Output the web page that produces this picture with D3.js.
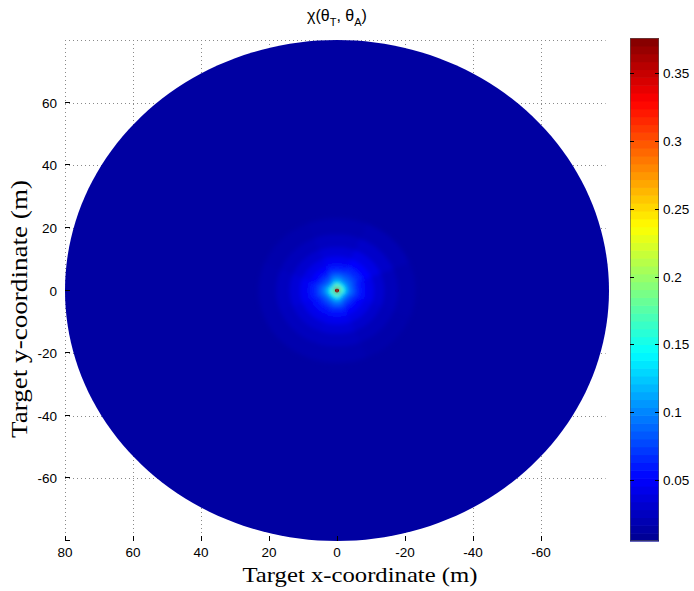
<!DOCTYPE html>
<html><head><meta charset="utf-8">
<script src="https://cdn.jsdelivr.net/npm/d3@7"></script>
<style>body{margin:0;background:#fff}</style>
</head><body>
<svg id="c" width="694" height="591"></svg>
<script>
// ---------- data ----------
const xTicks = [80, 60, 40, 20, 0, -20, -40, -60];
const yTicks = [60, 40, 20, 0, -20, -40, -60];
const gridY = [80, 60, 40, 20, 0, -20, -40, -60];
const cbTicks = [0.05, 0.1, 0.15, 0.2, 0.25, 0.3, 0.35];
const colorMin = 0.005, colorMax = 0.376;
const jetStops = [0, 0.125, 0.375, 0.625, 0.875, 1];
const jetColors = ["#00008f", "#0000ff", "#00ffff", "#ffff00", "#ff0000", "#800000"];
const maxRange = 80;
const outerValue = 0.013;
// polar cells near the target: ring edges (m) and sector centres (deg)
const rangeEdges = [0, 0.6, 1.5, 2.5, 3.5, 5, 6.5, 8.5, 11, 14, 18, 23];
const sectorCentres = [0, 45, 90, 135, 180, 225, 270, 315];
const ringValues = [
  [0.37, 0.37, 0.37, 0.37, 0.37, 0.37, 0.37, 0.37],
  [0.20, 0.18, 0.21, 0.19, 0.20, 0.17, 0.21, 0.18],
  [0.15, 0.13, 0.16, 0.14, 0.15, 0.13, 0.15, 0.14],
  [0.115, 0.10, 0.12, 0.11, 0.11, 0.10, 0.115, 0.105],
  [0.09, 0.08, 0.095, 0.09, 0.088, 0.078, 0.09, 0.082],
  [0.072, 0.064, 0.075, 0.076, 0.07, 0.062, 0.07, 0.066],
  [0.058, 0.052, 0.058, 0.063, 0.055, 0.05, 0.056, 0.054],
  [0.046, 0.041, 0.045, 0.052, 0.043, 0.04, 0.044, 0.043],
  [0.035, 0.031, 0.034, 0.04, 0.032, 0.03, 0.033, 0.032],
  [0.025, 0.023, 0.025, 0.029, 0.023, 0.022, 0.024, 0.024],
  [0.018, 0.017, 0.018, 0.02, 0.017, 0.016, 0.018, 0.018]
];

// ---------- layout ----------
const svg = d3.select("#c");
const x = d3.scaleLinear().domain([80, -80]).range([65, 609]);
const y = d3.scaleLinear().domain([80, -80]).range([40, 541]);
const color = d3.scaleLinear()
  .domain(jetStops.map(t => colorMin + t * (colorMax - colorMin)))
  .range(jetColors).clamp(true);

const defs = svg.append("defs");
defs.append("filter").attr("id", "blur").attr("x", "-50%").attr("y", "-50%").attr("width", "200%").attr("height", "200%")
  .append("feGaussianBlur").attr("stdDeviation", 2);

function cellPath(r0, r1, a0, a1) {
  const n = 24, pts = [];
  for (let i = 0; i <= n; i++) { const a = (a0 + (a1 - a0) * i / n) * Math.PI / 180; pts.push([x(r1 * Math.cos(a)), y(r1 * Math.sin(a))]); }
  for (let i = n; i >= 0; i--) { const a = (a0 + (a1 - a0) * i / n) * Math.PI / 180; pts.push([x(r0 * Math.cos(a)), y(r0 * Math.sin(a))]); }
  return d3.line()(pts) + "Z";
}
function diskPath(r) {
  const pts = d3.range(0, 361, 2).map(d => [x(r * Math.cos(d * Math.PI / 180)), y(r * Math.sin(d * Math.PI / 180))]);
  return d3.line()(pts) + "Z";
}

// grid
const grid = svg.append("g").attr("stroke", "#8a8a8a").attr("stroke-width", 1).attr("stroke-dasharray", "1,3");
grid.selectAll(".gx").data(xTicks).join("line")
  .attr("x1", d => Math.round(x(d)) + 0.5).attr("x2", d => Math.round(x(d)) + 0.5)
  .attr("y1", y(80)).attr("y2", y(-80));
grid.selectAll(".gy").data(gridY).join("line")
  .attr("y1", d => Math.round(y(d)) + 0.5).attr("y2", d => Math.round(y(d)) + 0.5)
  .attr("x1", x(80)).attr("x2", x(-79));

// background disk
svg.append("path").attr("d", diskPath(maxRange)).attr("fill", color(outerValue));

// near-target cells
const cells = [];
ringValues.forEach((row, i) => row.forEach((v, j) => cells.push({
  r0: rangeEdges[i], r1: rangeEdges[i + 1], a0: sectorCentres[j] - 22.5, a1: sectorCentres[j] + 22.5, v, ring: i })));
svg.append("g").attr("filter", "url(#blur)")
  .selectAll("path").data(cells.filter(c => c.ring > 0)).join("path")
  .attr("d", c => cellPath(c.r0, c.r1, c.a0, c.a1))
  .attr("fill", c => color(c.v)).attr("stroke", c => color(c.v)).attr("stroke-width", 0.5);
svg.append("g").selectAll("path").data(cells.filter(c => c.ring === 0)).join("path")
  .attr("d", c => cellPath(c.r0, c.r1, c.a0, c.a1))
  .attr("fill", c => color(c.v));

// axis tick marks (inward) and labels
const ax = svg.append("g").attr("stroke", "#000").attr("stroke-width", 1);
ax.selectAll(".tx").data(xTicks).join("line")
  .attr("x1", d => Math.round(x(d)) + 0.5).attr("x2", d => Math.round(x(d)) + 0.5)
  .attr("y1", y(-80)).attr("y2", y(-80) - 5);
ax.selectAll(".ty").data(yTicks.concat([-80])).join("line")
  .attr("y1", d => Math.round(y(d)) - 0.5).attr("y2", d => Math.round(y(d)) - 0.5)
  .attr("x1", x(80)).attr("x2", x(80) + 5);

const lab = svg.append("g").attr("font-family", "Liberation Sans, Arial, sans-serif").attr("font-size", 13.5).attr("fill", "#000");
lab.selectAll(".lx").data(xTicks).join("text")
  .attr("x", d => x(d)).attr("y", 557).attr("text-anchor", "middle").text(d => d);
lab.selectAll(".ly").data(yTicks).join("text")
  .attr("x", 57).attr("y", d => y(d) + 5).attr("text-anchor", "end").text(d => d);

// axis titles
svg.append("text").attr("x", 360).attr("y", 582).attr("text-anchor", "middle")
  .attr("font-family", "Liberation Serif, DejaVu Serif, serif").attr("font-size", 22)
  .attr("textLength", 235).attr("lengthAdjust", "spacingAndGlyphs")
  .text("Target x-coordinate (m)");
svg.append("text").attr("transform", "translate(27,309) rotate(-90)").attr("text-anchor", "middle")
  .attr("font-family", "Liberation Serif, DejaVu Serif, serif").attr("font-size", 23)
  .attr("textLength", 258).attr("lengthAdjust", "spacingAndGlyphs")
  .text("Target y-coordinate (m)");

// title
const t = svg.append("text").attr("x", 337).attr("y", 21).attr("text-anchor", "middle")
  .attr("font-family", "Liberation Sans, Arial, sans-serif").attr("font-size", 16);
t.append("tspan").text("χ(θ");
t.append("tspan").attr("font-size", 11).attr("dy", 5).text("T");
t.append("tspan").attr("dy", -5).text(", θ");
t.append("tspan").attr("font-size", 11).attr("dy", 5).text("A");
t.append("tspan").attr("dy", -5).text(")");

// colorbar
const cbX = 630, cbW = 29;
const cy = d3.scaleLinear().domain([colorMin, colorMax]).range([541, 38]);
const nBands = 64;
const bw = (colorMax - colorMin) / nBands;
const bands = d3.range(nBands).map(i => colorMin + (i + 0.5) * bw);
svg.append("g").selectAll("rect").data(bands).join("rect")
  .attr("x", cbX).attr("width", cbW)
  .attr("y", d => cy(d + bw / 2)).attr("height", d => cy(d - bw / 2) - cy(d + bw / 2) + 0.6)
  .attr("fill", d => color(d));
svg.append("rect").attr("x", cbX + 0.5).attr("y", 38.5).attr("width", cbW - 1).attr("height", 503 - 1)
  .attr("fill", "none").attr("stroke", "#555").attr("stroke-width", 0.6);
const cbt = svg.append("g").attr("stroke", "#000").attr("stroke-width", 1);
cbt.selectAll(".a").data(cbTicks).join("line")
  .attr("x1", cbX).attr("x2", cbX + 4).attr("y1", d => Math.round(cy(d)) + 0.5).attr("y2", d => Math.round(cy(d)) + 0.5);
cbt.selectAll(".b").data(cbTicks).join("line")
  .attr("x1", cbX + cbW - 4).attr("x2", cbX + cbW).attr("y1", d => Math.round(cy(d)) + 0.5).attr("y2", d => Math.round(cy(d)) + 0.5);
svg.append("g").attr("font-family", "Liberation Sans, Arial, sans-serif").attr("font-size", 13.5)
  .selectAll("text").data(cbTicks).join("text")
  .attr("x", cbX + cbW + 4).attr("y", d => cy(d) + 5).text(d => d);
</script>
</body></html>
